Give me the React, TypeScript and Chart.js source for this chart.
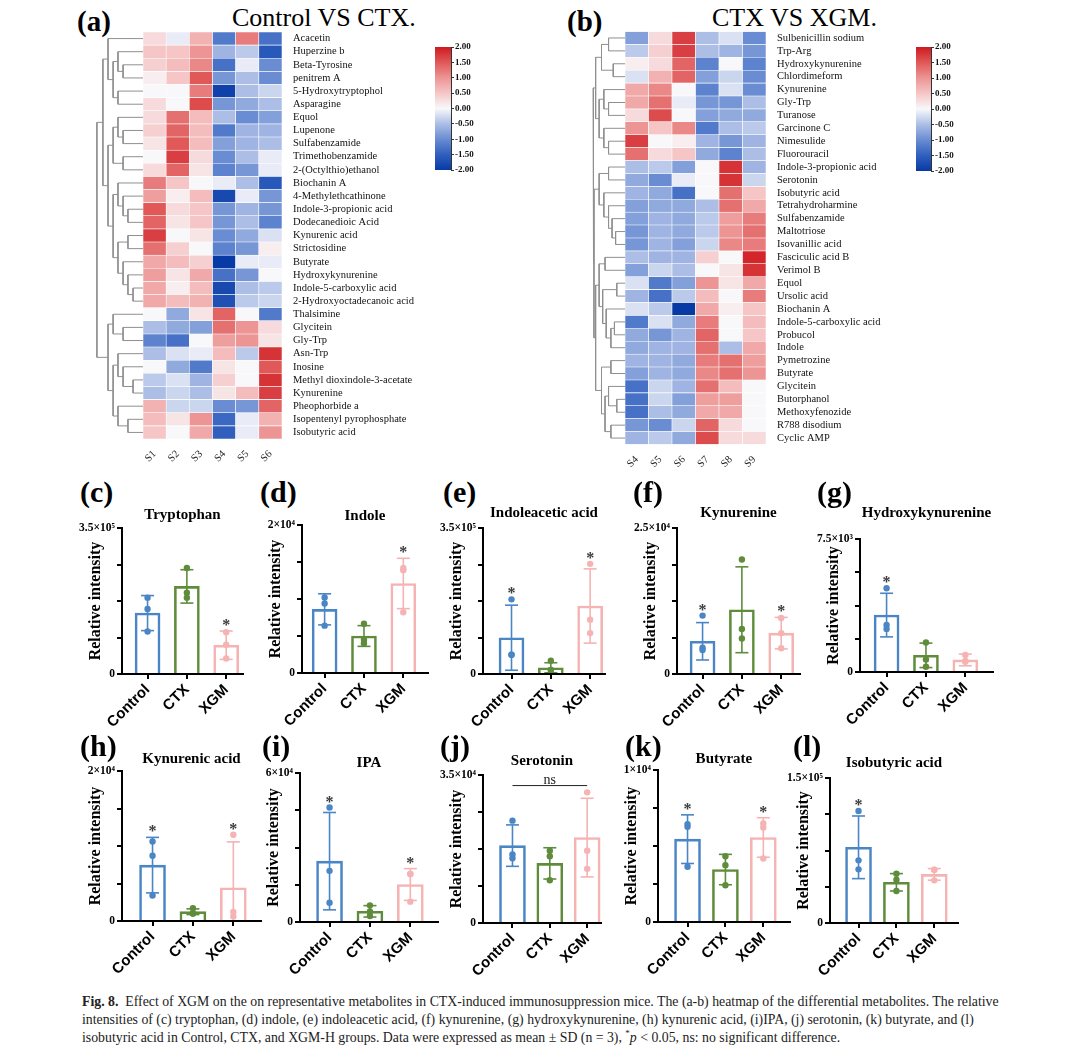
import React, { useEffect, useRef } from 'react';
import { Chart, registerables } from 'chart.js';

Chart.register(...registerables);

const SERIF = '"Liberation Serif", "Times New Roman", Times, serif';
const SANS = '"Liberation Sans", Arial, Helvetica, sans-serif';

// ---------------- Heatmap (a): Control VS CTX. ----------------
const rowsA = [
  'Acacetin', 'Huperzine b', 'Beta-Tyrosine', 'penitrem A', '5-Hydroxytryptophol', 'Asparagine',
  'Equol', 'Lupenone', 'Sulfabenzamide', 'Trimethobenzamide', '2-(Octylthio)ethanol', 'Biochanin A',
  '4-Methylethcathinone', 'Indole-3-propionic acid', 'Dodecanedioic Acid', 'Kynurenic acid', 'Strictosidine',
  'Butyrate', 'Hydroxykynurenine', 'Indole-5-carboxylic acid', '2-Hydroxyoctadecanoic acid', 'Thalsimine',
  'Glycitein', 'Gly-Trp', 'Asn-Trp', 'Inosine', 'Methyl dioxindole-3-acetate', 'Kynurenine',
  'Pheophorbide a', 'Isopentenyl pyrophosphate', 'Isobutyric acid',
];
const samplesA = ['S1', 'S2', 'S3', 'S4', 'S5', 'S6'];
const valuesA = [
  [0.3, -0.1, 0.7, -1.2, 1.2, -1.3],
  [0.5, 0.5, 1.0, -0.6, -0.4, -1.6],
  [0.4, 0.6, 1.1, -1.3, -0.1, -1.0],
  [0.1, 0.5, 1.5, -0.9, -0.5, -1.0],
  [0.0, 0.0, 1.2, -1.9, -0.5, -0.3],
  [0.3, 0.0, 1.6, -0.9, -0.7, -0.5],
  [0.3, 1.3, 0.6, -0.5, -1.0, -0.8],
  [0.4, 1.4, 0.6, -1.2, -0.6, -0.6],
  [0.2, 1.5, 0.6, -0.8, -0.6, -0.5],
  [0.0, 1.7, 0.3, -1.0, -0.5, -0.1],
  [0.3, 1.4, 0.2, -1.1, -0.9, -0.1],
  [1.2, 0.5, 0.0, -0.1, -0.5, -1.6],
  [0.9, 0.1, 0.6, -1.8, -0.1, -0.9],
  [1.5, 0.3, 0.5, -0.9, -0.6, -0.9],
  [1.4, 0.2, 0.5, -0.9, -0.5, -1.1],
  [1.7, 0.0, 0.2, -1.0, -0.7, -0.2],
  [1.3, 0.4, 0.0, -1.1, -0.9, 0.1],
  [0.8, 0.6, 0.4, -2.0, -0.1, -0.1],
  [0.9, 0.2, 0.8, -1.3, -0.9, 0.0],
  [0.8, 0.1, 0.6, -1.8, -0.5, -0.4],
  [0.8, 0.6, 0.7, -1.7, -0.4, -0.3],
  [0.0, -0.7, 0.2, 1.4, 0.0, -1.2],
  [-0.5, -0.7, -0.8, 1.3, 1.0, 0.3],
  [-1.1, -1.3, 0.0, 0.9, 1.0, 0.2],
  [-0.5, -0.2, -0.1, 0.6, -0.4, 1.8],
  [0.0, -0.7, -1.2, 0.2, 0.0, 1.5],
  [-0.4, -0.2, -0.6, 0.4, 0.0, 1.8],
  [-0.5, -0.3, -0.5, 0.2, 0.6, 1.7],
  [0.7, -0.3, -0.3, -1.0, -0.9, 1.4],
  [0.6, 0.2, 1.0, -1.4, -0.1, 0.7],
  [0.5, 0.0, 0.8, -1.5, -0.1, 1.0],
];
// dendrogram: [height, left, right], leaf = row index
const treeA = [1.99,
  [1.73,
    [1.51, 0, [1.29, [1.08, 1, [0.86, 2, 3]], [1.08, 4, 5]]],
    [1.51,
      [1.29, [1.08, 6, [0.86, 7, 8]], [0.86, 9, 10]],
      [1.29, [1.08, 11, [0.86, 12, [0.65, 13, 14]]], [1.08, [0.65, 15, 16], [0.86, 17, [0.65, 18, [0.43, 19, 20]]]]]]],
  [1.51,
    [1.29, 21, [0.86, 22, 23]],
    [1.29, [1.08, 24, [0.86, 25, [0.43, 26, 27]]], [1.08, 28, [0.65, 29, 30]]]]];

// ---------------- Heatmap (b): CTX VS XGM. ----------------
const rowsB = [
  'Sulbenicillin sodium', 'Trp-Arg', 'Hydroxykynurenine', 'Chlordimeform', 'Kynurenine', 'Gly-Trp',
  'Turanose', 'Garcinone C', 'Nimesulide', 'Fluorouracil', 'Indole-3-propionic acid', 'Serotonin',
  'Isobutyric acid', 'Tetrahydroharmine', 'Sulfabenzamide', 'Maltotriose', 'Isovanillic acid',
  'Fasciculic acid B', 'Verimol B', 'Equol', 'Ursolic acid', 'Biochanin A', 'Indole-5-carboxylic acid',
  'Probucol', 'Indole', 'Pymetrozine', 'Butyrate', 'Glycitein', 'Butorphanol', 'Methoxyfenozide',
  'R788 disodium', 'Cyclic AMP',
];
const samplesB = ['S4', 'S5', 'S6', 'S7', 'S8', 'S9'];
const valuesB = [
  [-0.8, 0.3, 1.7, -0.5, -0.2, -1.0],
  [-0.4, 0.4, 1.7, -0.5, -0.6, -0.9],
  [0.1, 0.3, 1.4, -1.1, 0.0, -1.1],
  [-0.2, 0.7, 1.4, -0.8, -0.3, -1.0],
  [0.8, 1.1, 0.0, -1.1, -0.2, -1.0],
  [0.8, 1.3, -0.1, -0.9, -0.9, -0.5],
  [0.3, 1.6, 0.0, -0.8, -0.7, -0.7],
  [1.0, 0.5, 1.1, -1.2, -0.5, -0.4],
  [1.7, 0.0, 0.1, -0.6, -0.9, -0.6],
  [1.3, 0.3, 0.5, -0.7, -1.1, -0.5],
  [-0.5, -0.4, -0.8, 0.0, 1.8, -0.6],
  [-0.7, -1.0, -0.1, 0.0, 1.8, -0.3],
  [-0.6, -0.7, -1.3, 0.0, 1.3, 0.5],
  [-0.8, -0.7, -0.7, -0.5, 1.3, 0.8],
  [-0.8, -0.6, -0.7, -0.4, 0.9, 1.2],
  [-0.9, -0.6, -0.7, -0.4, 1.0, 1.3],
  [-0.9, -0.6, -0.8, -0.3, 1.1, 1.2],
  [-0.5, -0.6, -0.6, 0.4, 0.0, 1.9],
  [-0.8, -0.3, -0.5, 0.0, 0.2, 1.8],
  [-0.2, -1.2, -0.8, 1.0, 0.2, 0.8],
  [-0.6, -1.3, -0.4, 0.6, 0.0, 1.2],
  [-0.2, -0.4, -2.0, 0.8, 0.1, 0.5],
  [-1.2, -0.2, -0.7, 1.2, 0.0, 0.6],
  [-0.7, -0.9, -0.6, 1.4, 0.0, 0.5],
  [-0.7, -0.6, -0.6, 1.3, -0.5, 0.8],
  [-0.6, -0.6, -0.7, 1.2, 1.3, 0.9],
  [-0.8, -0.6, -0.7, 1.1, 1.3, 1.0],
  [-1.3, -0.3, -0.6, 1.3, 0.6, 0.0],
  [-1.3, -0.3, -0.8, 0.9, 0.9, 0.0],
  [-1.3, -0.5, -0.7, 0.8, 0.8, 0.0],
  [-0.9, -1.0, -0.3, 1.4, 0.3, 0.0],
  [-0.6, -0.4, -0.7, 1.6, 0.3, 0.3],
];
const treeB = [1.36,
  [1.25,
    [1.0, [0.7, 0, 1], [0.5, 2, 3]],
    [1.1, [0.9, 4, [0.7, 5, 6]], [0.9, 7, [0.7, 8, 9]]]],
  [1.32,
    [1.1, [0.7, 10, 11], [0.9, 12, [0.7, 13, [0.55, 14, [0.4, 15, 16]]]]],
    [1.25,
      [1.1, [0.85, 17, 18], [0.95, [0.35, 19, 20], [0.8, 21, [0.6, [0.45, 22, 23], 24]]]],
      [1.0, [0.6, 25, 26], [0.85, [0.7, 27, [0.35, 28, 29]], [0.6, 30, 31]]]]]];

const colorTicks = [-2, -1.5, -1, -0.5, 0, 0.5, 1, 1.5, 2];

// ---------------- Bar panels ----------------
const groups = ['Control', 'CTX', 'XGM'];

const tryptophanMean = [146000, 210000, 69000];
const tryptophanSD = [42000, 40000, 34000];
const tryptophanPoints = [[183000, 156000, 102000], [254000, 195000, 183000], [100000, 70000, 37000]];
const tryptophanSig = [false, false, true];

const indoleMean = [8600, 5000, 12100];
const indoleSD = [2100, 1400, 3400];
const indolePoints = [[10200, 9400, 6400], [6650, 4500, 4000], [14200, 13900, 8200]];
const indoleSig = [false, false, true];

const iaaMean = [87000, 15000, 163000];
const iaaSD = [78000, 12000, 89000];
const iaaPoints = [[179000, 46000, 46000], [32000, 10000, 10000], [264000, 130000, 98000]];
const iaaSig = [true, false, true];

const kynurenineMean = [5600, 11000, 7000];
const kynurenineSD = [3200, 7350, 2700];
const kynureninePoints = [[10000, 4500, 4100], [19600, 7700, 6100], [9600, 7000, 4400]];
const kynurenineSig = [true, false, true];

const hkMean = [3210, 940, 680];
const hkSD = [1230, 690, 330];
const hkPoints = [[4720, 2650, 2430], [1670, 710, 300], [960, 620, 580]];
const hkSig = [true, false, false];

const kaMean = [7450, 1240, 4430];
const kaSD = [3700, 380, 6120];
const kaPoints = [[10600, 8700, 3400], [1700, 1000, 1000], [11500, 1200, 600]];
const kaSig = [true, false, true];

const ipaMean = [24500, 4300, 15100];
const ipaSD = [19600, 2300, 6400];
const ipaPoints = [[46100, 20600, 7800], [6700, 4200, 2400], [19300, 19300, 8200]];
const ipaSig = [true, false, true];

const serotoninMean = [18300, 14100, 20200];
const serotoninSD = [4900, 3700, 9300];
const serotoninPoints = [[24200, 16200, 15300], [17100, 15800, 10100], [30900, 17100, 12800]];
const serotoninSig = [false, false, false];
const serotoninNs = { from: 0, to: 2, value: 32500, text: 'ns' };

const butyrateMean = [5450, 3450, 5560];
const butyrateSD = [1600, 1000, 1300];
const butyratePoints = [[6440, 6260, 3630], [4330, 3740, 2420], [6480, 6220, 4180]];
const butyrateSig = [true, false, true];

const isobutyricMean = [78300, 42100, 50300];
const isobutyricSD = [32400, 9000, 6000];
const isobutyricPoints = [[115900, 64800, 55500], [51000, 44800, 33100], [55200, 55200, 44100]];
const isobutyricSig = [true, false, false];

const panels = [
  { id: 'c', title: 'Tryptophan', max: 350000, mean: tryptophanMean, sd: tryptophanSD, pts: tryptophanPoints, sig: tryptophanSig },
  { id: 'd', title: 'Indole', max: 20000, mean: indoleMean, sd: indoleSD, pts: indolePoints, sig: indoleSig },
  { id: 'e', title: 'Indoleacetic acid', max: 350000, mean: iaaMean, sd: iaaSD, pts: iaaPoints, sig: iaaSig },
  { id: 'f', title: 'Kynurenine', max: 25000, mean: kynurenineMean, sd: kynurenineSD, pts: kynureninePoints, sig: kynurenineSig },
  { id: 'g', title: 'Hydroxykynurenine', max: 7500, mean: hkMean, sd: hkSD, pts: hkPoints, sig: hkSig },
  { id: 'h', title: 'Kynurenic acid', max: 20000, mean: kaMean, sd: kaSD, pts: kaPoints, sig: kaSig },
  { id: 'i', title: 'IPA', max: 60000, mean: ipaMean, sd: ipaSD, pts: ipaPoints, sig: ipaSig },
  { id: 'j', title: 'Serotonin', max: 35000, mean: serotoninMean, sd: serotoninSD, pts: serotoninPoints, sig: serotoninSig, ns: serotoninNs },
  { id: 'k', title: 'Butyrate', max: 10000, mean: butyrateMean, sd: butyrateSD, pts: butyratePoints, sig: butyrateSig },
  { id: 'l', title: 'Isobutyric acid', max: 150000, mean: isobutyricMean, sd: isobutyricSD, pts: isobutyricPoints, sig: isobutyricSig },
];

// ---------------- layout / style ----------------
const groupColors = ['#4a86c5', '#5e8c3b', '#f5b3b3'];

const panelLayout: Record<string, any> = {
  c: { axisX: 122, top: 528, bottom: 674, xEnd: 245, c0: 148, step: 40, titleY: 515, lx: 80, lb: 502, barW: 25 },
  d: { axisX: 302, top: 525, bottom: 673, xEnd: 430, c0: 325, step: 40, titleY: 516, lx: 260, lb: 502, barW: 25 },
  e: { axisX: 483, top: 528, bottom: 674, xEnd: 607, c0: 512, step: 40, titleY: 513, lx: 443, lb: 502, barW: 25 },
  f: { axisX: 677, top: 528, bottom: 674, xEnd: 802, c0: 703, step: 40, titleY: 513, lx: 633, lb: 502, barW: 25 },
  g: { axisX: 860, top: 539, bottom: 672, xEnd: 995, c0: 887, step: 40, titleY: 513, lx: 817, lb: 502, barW: 25 },
  h: { axisX: 122, top: 771, bottom: 921, xEnd: 263, c0: 153, step: 41, titleY: 759, lx: 80, lb: 756, barW: 26 },
  i: { axisX: 300, top: 773, bottom: 922, xEnd: 440, c0: 330, step: 41, titleY: 763, lx: 262, lb: 756, barW: 26 },
  j: { axisX: 483, top: 775, bottom: 923, xEnd: 603, c0: 513, step: 38, titleY: 761, lx: 440, lb: 756, barW: 26 },
  k: { axisX: 658, top: 770, bottom: 922, xEnd: 792, c0: 688, step: 38.5, titleY: 759, lx: 625, lb: 756, barW: 26 },
  l: { axisX: 830, top: 778, bottom: 923, xEnd: 960, c0: 859, step: 38.5, titleY: 763, lx: 793, lb: 756, barW: 26 },
};

const heatLayoutA = { cellLeft: 143, cellRight: 282, top: 32, bottom: 439, dMin: -2.1, labelW: 150, xH: 30 };
const heatLayoutB = { cellLeft: 625, cellRight: 766, top: 31.5, bottom: 444.5, dMin: -1.45, labelW: 140, xH: 30 };
const barLayoutA = { left: 435, right: 451, top: 47, bottom: 170 };
const barLayoutB = { left: 916, right: 931, top: 47, bottom: 171 };

const cmapStops: [number, number[]][] = [
  [-2, [8, 58, 165]], [-1.5, [48, 95, 190]], [-1, [105, 140, 210]], [-0.5, [172, 190, 230]],
  [0, [248, 248, 250]], [0.5, [246, 198, 198]], [1, [237, 148, 148]], [1.5, [224, 88, 88]], [2, [206, 26, 32]],
];

function cmap(z: number) {
  const v = Math.max(-2, Math.min(2, z));
  for (let i = 0; i < cmapStops.length - 1; i++) {
    const [z0, c0] = cmapStops[i];
    const [z1, c1] = cmapStops[i + 1];
    if (v >= z0 && v <= z1) {
      const t = (v - z0) / (z1 - z0);
      const c = c0.map((a, k) => Math.round(a + (c1[k] - a) * t));
      return `rgb(${c[0]},${c[1]},${c[2]})`;
    }
  }
  return 'rgb(248,248,250)';
}

function dendroPoints(tree: any) {
  const pts: any[] = [];
  const walk = (n: any): { h: number; y: number } => {
    if (typeof n === 'number') return { h: 0, y: n + 0.5 };
    const [h, l, r] = n;
    const a = walk(l);
    const b = walk(r);
    pts.push({ x: -a.h, y: a.y }, { x: -h, y: a.y }, { x: -h, y: b.y }, { x: -b.h, y: b.y }, { x: null, y: null });
    return { h, y: (a.y + b.y) / 2 };
  };
  walk(tree);
  return pts;
}

function heatGeom(L: any, n: number) {
  const u = (L.cellRight - L.cellLeft) / n;
  const chartLeft = L.cellLeft + L.dMin * u;
  const left = Math.floor(chartLeft - 4);
  const padL = chartLeft - left;
  const areaW = L.cellRight - chartLeft;
  const width = Math.ceil(padL + areaW + L.labelW);
  const padR = width - padL - areaW - L.labelW;
  const top = Math.floor(L.top - 10);
  const padT = L.top - top;
  const height = Math.ceil(padT + (L.bottom - L.top) + L.xH + 1);
  const padB = height - padT - (L.bottom - L.top) - L.xH;
  return { left, top, width, height, pad: { left: padL, right: padR, top: padT, bottom: padB } };
}

function heatConfig(rows: string[], samples: string[], values: number[][], tree: any, L: any, g: any) {
  const cells: any[] = [];
  const colors: string[] = [];
  rows.forEach((_, i) => samples.forEach((__, s) => {
    cells.push({ y: i + 0.5, x: [s, s + 1] });
    colors.push(cmap(values[i][s]));
  }));
  return {
    type: 'bar',
    data: {
      datasets: [
        { type: 'line', data: dendroPoints(tree), borderColor: '#8f8f8f', borderWidth: 1, pointRadius: 0, spanGaps: false, order: 0 },
        { type: 'bar', indexAxis: 'y', data: cells, backgroundColor: colors, borderColor: '#ffffff', borderWidth: 0.6, borderSkipped: false, barPercentage: 1, categoryPercentage: 1, order: 1 },
      ],
    },
    options: {
      responsive: false, animation: false, events: [],
      layout: { padding: g.pad },
      plugins: { legend: { display: false }, tooltip: { enabled: false }, title: { display: false } },
      scales: {
        x: {
          type: 'linear', min: L.dMin, max: samples.length, offset: false,
          grid: { display: false, offset: false }, border: { display: false },
          afterBuildTicks: (s: any) => { s.ticks = samples.map((_, i) => ({ value: i + 0.5 })); },
          afterFit: (s: any) => { s.height = L.xH; },
          ticks: { autoSkip: false, minRotation: 45, maxRotation: 45, padding: 1, color: '#222', font: { family: SERIF, size: 10.5 }, callback: (_v: any, i: number) => samples[i] },
        },
        y: {
          type: 'linear', position: 'right', min: 0, max: rows.length, reverse: true, offset: false,
          grid: { display: false, offset: false }, border: { display: false },
          afterBuildTicks: (s: any) => { s.ticks = rows.map((_, i) => ({ value: i + 0.5 })); },
          afterFit: (s: any) => { s.width = L.labelW; },
          ticks: { autoSkip: false, padding: 3, color: '#111', font: { family: SERIF, size: 10.5 }, callback: (_v: any, i: number) => rows[i] },
        },
      },
    },
  };
}

function colorbarGeom(B: any) {
  const labelW = 30;
  const left = B.left - 2;
  const top = B.top - 8;
  const width = 2 + (B.right - B.left) + labelW;
  const height = 8 + (B.bottom - B.top) + 8;
  return { left, top, width, height, labelW };
}

function colorbarConfig(g: any) {
  return {
    type: 'bar',
    data: {
      labels: [''],
      datasets: [{
        data: [[colorTicks[0], colorTicks[colorTicks.length - 1]]],
        borderWidth: 0, barPercentage: 1, categoryPercentage: 1,
        backgroundColor: (c: any) => {
          const area = c.chart.chartArea;
          if (!area) return '#fff';
          const grad = c.chart.ctx.createLinearGradient(0, area.bottom, 0, area.top);
          cmapStops.forEach(([z]) => grad.addColorStop((z + 2) / 4, cmap(z)));
          return grad;
        },
      }],
    },
    options: {
      responsive: false, animation: false, events: [],
      layout: { padding: { left: 2, right: 0, top: 8, bottom: 8 } },
      plugins: { legend: { display: false }, tooltip: { enabled: false } },
      scales: {
        x: { display: false, offset: true },
        y: {
          position: 'right', min: -2, max: 2,
          afterBuildTicks: (s: any) => { s.ticks = colorTicks.map((v) => ({ value: v })); },
          afterFit: (s: any) => { s.width = g.labelW; },
          grid: { display: true, drawOnChartArea: false, tickLength: 3, color: '#333', lineWidth: 1 },
          border: { display: true, color: '#333', width: 1 },
          ticks: { padding: 1, color: '#111', font: { family: SERIF, size: 9, weight: 'bold' }, callback: (v: any) => Number(v).toFixed(2) },
        },
      },
    },
  };
}

const SUP: Record<string, string> = { '0': '⁰', '1': '¹', '2': '²', '3': '³', '4': '⁴', '5': '⁵', '6': '⁶', '7': '⁷', '8': '⁸', '9': '⁹' };
function sciLabel(v: number) {
  const e = Math.floor(Math.log10(v));
  const m = Math.round((v / Math.pow(10, e)) * 100) / 100;
  return `${m}×10${String(e).split('').map((c) => SUP[c]).join('')}`;
}

function barGeom(L: any) {
  const yW = 46;
  const left = Math.round(L.axisX - yW - 12);
  const padL = L.axisX - yW - left;
  const areaW = L.xEnd - L.axisX;
  const width = Math.ceil(padL + yW + areaW + 6);
  const padR = width - padL - yW - areaW;
  const top = Math.floor(L.titleY - 9);
  const padT = L.titleY - 9 - top;
  const titlePadB = Math.max(0, L.top - L.titleY - 9);
  const xH = 64;
  const height = Math.ceil(L.bottom - top + xH + 2);
  const padB = height - (L.bottom - top) - xH;
  return { left, top, width, height, yW, xH, titlePadB, pad: { left: padL, right: padR, top: padT, bottom: padB } };
}

function barConfig(p: any, L: any, g: any) {
  const xMin = (L.axisX - L.c0) / L.step;
  const xMax = (L.xEnd - L.c0) / L.step;
  const bars = p.mean.map((m: number, i: number) => ({ x: i, y: m }));
  const errSets = p.mean.map((m: number, i: number) => ({
    type: 'line',
    data: [{ x: i, y: m - p.sd[i] }, { x: i, y: m + p.sd[i] }],
    borderColor: groupColors[i], borderWidth: 1.6,
    pointStyle: 'line', pointRadius: 6.5, pointBorderWidth: 1.6,
    pointBorderColor: groupColors[i], pointBackgroundColor: groupColors[i],
    order: 1,
  }));
  const dots: any[] = [];
  const dotColors: string[] = [];
  p.pts.forEach((arr: number[], i: number) => arr.forEach((v) => { dots.push({ x: i, y: v }); dotColors.push(groupColors[i]); }));

  const annot = {
    id: 'annot' + p.id,
    afterDatasetsDraw(chart: any) {
      const { ctx, scales } = chart;
      const x = scales.x;
      const y = scales.y;
      ctx.save();
      ctx.fillStyle = '#3a3a3a';
      ctx.textAlign = 'center';
      ctx.textBaseline = 'alphabetic';
      ctx.font = `bold 16px ${SERIF}`;
      p.sig.forEach((s: boolean, i: number) => {
        if (!s) return;
        const topVal = Math.max(p.mean[i] + p.sd[i], ...p.pts[i]);
        const py = y.getPixelForValue(topVal);
        ctx.fillText('*', x.getPixelForValue(i), py - 1);
      });
      if (p.ns) {
        const py = y.getPixelForValue(p.ns.value);
        ctx.strokeStyle = '#222';
        ctx.lineWidth = 1;
        ctx.beginPath();
        ctx.moveTo(x.getPixelForValue(p.ns.from), py);
        ctx.lineTo(x.getPixelForValue(p.ns.to), py);
        ctx.stroke();
        ctx.font = `14px ${SERIF}`;
        ctx.fillStyle = '#222';
        ctx.fillText(p.ns.text, x.getPixelForValue((p.ns.from + p.ns.to) / 2), py - 2);
      }
      ctx.restore();
    },
  };

  return {
    type: 'bar',
    data: {
      datasets: [
        { type: 'line', data: dots, showLine: false, pointRadius: 3.2, pointBorderWidth: 0, pointBackgroundColor: dotColors, pointBorderColor: dotColors, order: 0 },
        ...errSets,
        { type: 'bar', data: bars, backgroundColor: '#ffffff', borderColor: groupColors, borderWidth: 2.6, barThickness: L.barW, order: 2 },
      ],
    },
    plugins: [annot],
    options: {
      responsive: false, animation: false, events: [],
      layout: { padding: g.pad },
      plugins: {
        legend: { display: false }, tooltip: { enabled: false },
        title: {
          display: true, text: p.title, fullSize: false, color: '#000',
          font: { family: SERIF, size: 15, weight: 'bold', lineHeight: 1.2 },
          padding: { top: 0, bottom: g.titlePadB },
        },
      },
      scales: {
        x: {
          type: 'linear', min: xMin, max: xMax, offset: false,
          afterBuildTicks: (s: any) => { s.ticks = groups.map((_, i) => ({ value: i })); },
          afterFit: (s: any) => { s.height = g.xH; },
          grid: { display: true, drawOnChartArea: false, drawTicks: true, tickLength: 5, color: '#000', lineWidth: 2, offset: false },
          border: { display: true, color: '#000', width: 2, z: 1 },
          ticks: { autoSkip: false, minRotation: 45, maxRotation: 45, padding: 2, color: '#000', font: { family: SANS, size: 15, weight: 'bold' }, callback: (_v: any, i: number) => groups[i] },
        },
        y: {
          type: 'linear', min: 0, max: p.max,
          afterBuildTicks: (s: any) => { s.ticks = [0, 1, 2, 3, 4].map((k) => ({ value: (p.max * k) / 4 })); },
          afterFit: (s: any) => { s.width = g.yW; },
          grid: { display: true, drawOnChartArea: false, drawTicks: true, tickLength: 5, color: '#000', lineWidth: 2 },
          border: { display: true, color: '#000', width: 2, z: 1 },
          title: { display: true, text: 'Relative intensity', color: '#000', font: { family: SERIF, size: 16, weight: 'bold', lineHeight: 1.2 }, padding: { top: 10.4, bottom: 0 } },
          ticks: {
            autoSkip: false, padding: 2, color: '#000', font: { family: SERIF, size: 11.5, weight: 'bold' },
            callback: (_v: any, i: number) => (i === 0 ? '0' : i === 4 ? sciLabel(p.max) : ''),
          },
        },
      },
    },
  };
}

function ChartBox({ g, make }: { g: any; make: () => any }) {
  const ref = useRef<HTMLCanvasElement>(null);
  useEffect(() => {
    const chart = new Chart(ref.current as HTMLCanvasElement, make());
    return () => chart.destroy();
  }, []);
  return (
    <canvas
      ref={ref}
      width={g.width}
      height={g.height}
      style={{ position: 'absolute', left: g.left, top: g.top, width: g.width, height: g.height }}
    />
  );
}

function Text({ x, base, size, bold, children }: { x: number; base: number; size: number; bold?: boolean; children: any }) {
  return (
    <div
      style={{
        position: 'absolute', left: x, top: base - 0.8375 * size, fontSize: size, lineHeight: `${size}px`,
        fontFamily: SERIF, fontWeight: bold ? 700 : 400, whiteSpace: 'nowrap', color: '#000',
      }}
    >
      {children}
    </div>
  );
}

export default function App() {
  const gA = heatGeom(heatLayoutA, samplesA.length);
  const gB = heatGeom(heatLayoutB, samplesB.length);
  const cA = colorbarGeom(barLayoutA);
  const cB = colorbarGeom(barLayoutB);
  return (
    <div style={{ position: 'absolute', left: 0, top: 0, width: 1080, height: 1059, background: '#fff', overflow: 'hidden' }}>
      <Text x={77} base={31} size={29} bold>(a)</Text>
      <Text x={232} base={27} size={26}>Control VS CTX.</Text>
      <Text x={567} base={31} size={29} bold>(b)</Text>
      <Text x={712} base={27} size={26}>CTX VS XGM.</Text>

      <ChartBox g={gA} make={() => heatConfig(rowsA, samplesA, valuesA, treeA, heatLayoutA, gA)} />
      <ChartBox g={gB} make={() => heatConfig(rowsB, samplesB, valuesB, treeB, heatLayoutB, gB)} />
      <ChartBox g={cA} make={() => colorbarConfig(cA)} />
      <ChartBox g={cB} make={() => colorbarConfig(cB)} />

      {panels.map((p) => {
        const L = panelLayout[p.id];
        const g = barGeom(L);
        return (
          <React.Fragment key={p.id}>
            <Text x={L.lx} base={L.lb} size={30} bold>({p.id})</Text>
            <ChartBox g={g} make={() => barConfig(p, L, g)} />
          </React.Fragment>
        );
      })}

      <div
        style={{
          position: 'absolute', left: 82, top: 993, fontFamily: SERIF, fontSize: 13.8, lineHeight: '18px',
          color: '#222', whiteSpace: 'nowrap',
        }}
      >
        <b>Fig. 8.</b>&nbsp; Effect of XGM on the on representative metabolites in CTX-induced immunosuppression mice. The (a-b) heatmap of the differential metabolites. The relative
        <br />
        intensities of (c) tryptophan, (d) indole, (e) indoleacetic acid, (f) kynurenine, (g) hydroxykynurenine, (h) kynurenic acid, (i)IPA, (j) serotonin, (k) butyrate, and (l)
        <br />
        isobutyric acid in Control, CTX, and XGM-H groups. Data were expressed as mean ± SD (n = 3), <sup style={{ fontSize: 9, lineHeight: 0 }}>*</sup><i>p</i> &lt; 0.05, ns: no significant difference.
      </div>
    </div>
  );
}
